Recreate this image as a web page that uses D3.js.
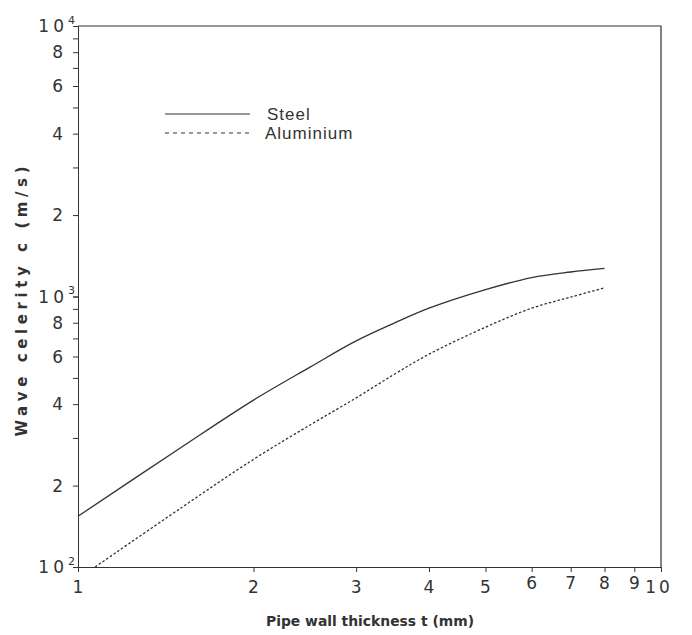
<!DOCTYPE html>
<html>
<head>
<meta charset="utf-8">
<script src="https://cdn.jsdelivr.net/npm/d3@7"></script>
<style>
  body { margin: 0; background: #fff; }
  text { font-family: "DejaVu Sans", sans-serif; fill: #333; }
</style>
</head>
<body>
<div id="maViz"></div>
<script>
// donnees (epaisseur t en mm, celerite c en m/s)
const steelT = [1, 1.5, 2, 2.5, 3, 3.5, 4, 5, 6, 7, 8];
const steelC = [154, 276, 414, 548, 685, 800, 905, 1060, 1175, 1232, 1270];

const aluT = [1.07, 1.5, 2, 2.5, 3, 3.5, 4, 5, 6, 7, 8];
const aluC = [100, 165, 250, 335, 422, 518, 612, 770, 905, 995, 1076];

const seriesNames = ["Steel", "Aluminium"];
const xTicks = [1, 2, 3, 4, 5, 6, 7, 8, 9, 10];
const yLabels = [200, 400, 600, 800, 2000, 4000, 6000, 8000];
const yDecades = [100, 1000, 10000];

// dimensions
const W = 692, H = 635;
const margin = {top: 26, right: 31, bottom: 68, left: 78};
const width = W - margin.left - margin.right;
const height = H - margin.top - margin.bottom;
const ink = '#333';

const svg = d3.select("#maViz")
  .append("svg")
    .attr("width", W)
    .attr("height", H)
  .append("g")
    .attr("transform", `translate(${margin.left},${margin.top})`);

// echelles log
const x = d3.scaleLog().domain([1, 10]).range([0, width]);
const y = d3.scaleLog().domain([100, 10000]).range([height, 0]);

// ticks mineurs y : 1..9 par decade
const yMinor = [];
[100, 1000].forEach(d => { for (let k = 1; k <= 10; k++) yMinor.push(d * k); });

// axe y (gauche)
svg.append("g")
  .call(d3.axisLeft(y).tickValues(yMinor).tickSize(5).tickFormat(""))
  .call(g => g.select(".domain").attr("stroke", ink))
  .call(g => g.selectAll(".tick line").attr("stroke", ink));

// axe x (bas)
svg.append("g")
  .attr("transform", `translate(0,${height})`)
  .call(d3.axisBottom(x).tickValues(xTicks).tickSize(5).tickFormat(""))
  .call(g => g.select(".domain").attr("stroke", ink))
  .call(g => g.selectAll(".tick line").attr("stroke", ink));

// cadre haut + droite
svg.append("path")
  .attr("d", `M0,${y(10000)}H${x(10)}V${y(100)}`)
  .attr("fill", "none")
  .attr("stroke", ink)
  .attr("stroke-width", 1.2);

// labels y
svg.append("g").selectAll("text")
  .data(yLabels)
  .join("text")
    .attr("x", -15)
    .attr("y", d => y(d))
    .attr("dy", "0.36em")
    .attr("text-anchor", "end")
    .style("font-size", "17px")
    .text(d => String(d)[0]);

const dec = svg.append("g").selectAll("text")
  .data(yDecades)
  .join("text")
    .attr("x", -3)
    .attr("y", d => y(d))
    .attr("dy", "0.36em")
    .attr("text-anchor", "end")
    .style("font-size", "17px");
dec.append("tspan").text("10").attr("letter-spacing", "4px");
dec.append("tspan")
  .text(d => Math.round(Math.log10(d)))
  .attr("dy", "-0.75em")
  .style("font-size", "11px");

// labels x
svg.append("g").selectAll("text")
  .data(xTicks)
  .join("text")
    .attr("x", d => x(d) + (d == 10 ? -2 : 0))
    .attr("y", d => height + (d >= 6 && d <= 9 ? 16 : 20))
    .attr("dy", "0.36em")
    .attr("text-anchor", "middle")
    .attr("letter-spacing", d => d == 10 ? "3px" : "0px")
    .style("font-size", "17px")
    .text(d => d);

// titres des axes
svg.append("text")
  .attr("x", 292)
  .attr("y", height + 59)
  .attr("text-anchor", "middle")
  .attr("textLength", 208)
  .attr("lengthAdjust", "spacingAndGlyphs")
  .style("font-size", "14px")
  .style("font-weight", "bold")
  .text("Pipe wall thickness t (mm)");

svg.append("text")
  .attr("transform", `translate(-51,${y(1000) + 5}) rotate(-90)`)
  .attr("text-anchor", "middle")
  .attr("textLength", 270)
  .attr("lengthAdjust", "spacing")
  .style("font-size", "15px")
  .style("font-weight", "bold")
  .text("Wave celerity c (m/s)");

// courbes
const line = d3.line()
  .x(d => x(d[0]))
  .y(d => y(d[1]))
  .curve(d3.curveCatmullRom.alpha(0.5));

const steel = steelT.map((t, i) => [t, steelC[i]]);
const alu = aluT.map((t, i) => [t, aluC[i]]);

svg.append("path")
  .datum(steel)
  .attr("d", line)
  .attr("fill", "none")
  .attr("stroke", ink)
  .attr("stroke-width", 1.3);

svg.append("path")
  .datum(alu)
  .attr("d", line)
  .attr("fill", "none")
  .attr("stroke", ink)
  .attr("stroke-width", 1.3)
  .attr("stroke-dasharray", "2.5,2");

// legende
const leg = svg.append("g").attr("transform", "translate(87,88)");
seriesNames.forEach((name, i) => {
  leg.append("line")
    .attr("x1", 0).attr("x2", 85)
    .attr("y1", i * 19).attr("y2", i * 19)
    .attr("stroke", ink)
    .attr("stroke-width", i ? 1.1 : 1.2)
    .attr("stroke-dasharray", i ? "4,4" : null);
  leg.append("text")
    .attr("x", i ? 100 : 102)
    .attr("y", i * 19)
    .attr("dy", "0.35em")
    .attr("letter-spacing", "1px")
    .style("font-family", "'Liberation Sans', Arial, sans-serif")
    .style("font-size", "17px")
    .text(name);
});
</script>
</body>
</html>
